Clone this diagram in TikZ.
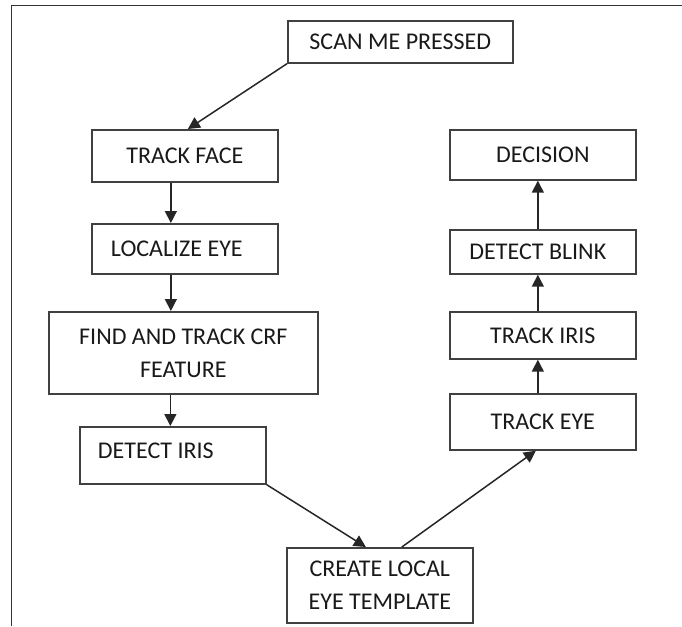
\documentclass[tikz,border=0pt]{standalone}
\usepackage{fontspec}
\setmainfont{Carlito}
\usepackage{tikz}
\usetikzlibrary{positioning,arrows.meta}

\begin{document}
\begin{tikzpicture}[x=1pt, y=-1pt,
  every node/.style={font=\fontsize{24}{33}\selectfont, text=black!90},
  blk/.style={draw=black!75, line width=1.7pt, anchor=north west, inner sep=0pt, align=center},
  arr/.style={draw=black!85, line width=1.5pt, -{Triangle[length=12pt,width=12pt]}}]
\useasboundingbox (0,0) rectangle (682,626);
\draw[line width=1pt, black!80] (11,626) -- (11,6) -- (682,6);
% left column
\node[blk, minimum width=225pt, minimum height=42pt] (scan) at (287,20) {SCAN ME PRESSED};
\node[blk, minimum width=186pt, minimum height=52pt] (face) at (91,129) {TRACK FACE};
\node[blk, minimum width=186pt, minimum height=50pt] (loc) at (91,223) {LOCALIZE EYE\hspace*{16pt}};
\node[blk, minimum width=269pt, minimum height=82pt] (find) at (48,311) {FIND AND TRACK CRF\\FEATURE};
\node[blk, minimum width=186pt, minimum height=57pt, text depth=10pt] (diris) at (79,426) {DETECT IRIS\hspace*{34pt}};
\node[blk, minimum width=186pt, minimum height=75pt] (create) at (286,547) {CREATE LOCAL\\EYE TEMPLATE};
% right column
\node[blk, minimum width=186pt, minimum height=56pt] (teye) at (449,393) {TRACK EYE};
\node[blk, minimum width=186pt, minimum height=47pt] (tiris) at (449,311) {TRACK IRIS};
\node[blk, minimum width=186pt, minimum height=44pt] (blink) at (449,229) {DETECT BLINK\hspace*{10pt}};
\node[blk, minimum width=186pt, minimum height=50pt] (dec) at (449,129) {DECISION};
% connectors
\draw[arr] (scan.south west) -- ([xshift=3pt]face.north);
\draw[arr] ([xshift=-14pt]face.south) -- ([xshift=-14pt]face.south |- loc.north);
\draw[arr] ([xshift=-14pt]loc.south) -- ([xshift=-14pt]loc.south |- find.north);
\draw[arr] ([xshift=-13pt]find.south) -- ([xshift=-13pt]find.south |- diris.north);
\draw[arr] (diris.south east) -- ([xshift=-14pt]create.north);
\draw[arr] ([xshift=22pt]create.north) -- ([xshift=-7pt]teye.south);
\draw[arr] ([xshift=-5pt]teye.north) -- ([xshift=-5pt]teye.north |- tiris.south);
\draw[arr] ([xshift=-5pt]tiris.north) -- ([xshift=-5pt]tiris.north |- blink.south);
\draw[arr] ([xshift=-5pt]blink.north) -- ([xshift=-5pt]blink.north |- dec.south);
\end{tikzpicture}
\end{document}
